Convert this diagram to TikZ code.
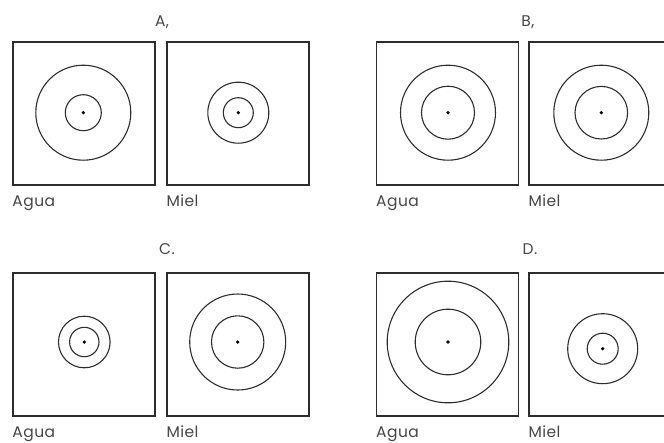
\documentclass[tikz,border=0pt]{standalone}
\usepackage{fontspec}
\setmainfont{Poppins}[LetterSpace=3]
\usepackage{xcolor}
\usepackage{tikz}
\usetikzlibrary{positioning}
\definecolor{inkgray}{RGB}{45,45,45}
\definecolor{textgray}{RGB}{70,70,70}

\begin{document}
\begin{tikzpicture}[x=1pt, y=-1pt,
    tank/.style={rectangle, draw=inkgray, line width=1.4pt, minimum width=142pt, minimum height=143pt, inner sep=0pt},
    ring/.style={draw=inkgray, line width=1.1pt},
    drop/.style={circle, fill=black, inner sep=0pt, minimum size=3.6pt},
    lbl/.style={anchor=base west, inner sep=0pt, text=textgray, font=\fontsize{15.5}{18}\selectfont},
    title/.style={anchor=base, inner sep=0pt, text=textgray, font=\fontsize{15.5}{18}\selectfont}
]
    \useasboundingbox (0,0) rectangle (664,442);

    % Option A
    \node[title] (tA) at (162,26) {A,};
    \node[tank] (aW) at (84,113.5) {};
    \node[tank] (aM) at (238,113.5) {};
    \node[drop] (aWc) at (83.3,112.7) {};
    \node[drop] (aMc) at (238.3,112.7) {};
    \draw[ring] (aWc) circle[radius=47.5] (aWc) circle[radius=18];
    \draw[ring] (aMc) circle[radius=30.5] (aMc) circle[radius=15];
    \node[lbl] (aWl) at ([yshift=-21pt]aW.south west) {Agua};
    \node[lbl] (aMl) at ([yshift=-21pt]aM.south west) {Miel};

    % Option B
    \node[title] (tB) at (528,26) {B,};
    \node[tank] (bW) at (447.7,113.5) {};
    \node[tank] (bM) at (600,113.5) {};
    \node[drop] (bWc) at (448,112.7) {};
    \node[drop] (bMc) at (601.3,112.7) {};
    \draw[ring] (bWc) circle[radius=47.5] (bWc) circle[radius=26.5];
    \draw[ring] (bMc) circle[radius=47.5] (bMc) circle[radius=26.3];
    \node[lbl] (bWl) at ([yshift=-21pt]bW.south west) {Agua};
    \node[lbl] (bMl) at ([yshift=-21pt]bM.south west) {Miel};

    % Option C
    \node[title] (tC) at (167,254.5) {C.};
    \node[tank] (cW) at (84,344.3) {};
    \node[tank] (cM) at (238,344.3) {};
    \node[drop] (cWc) at (84.3,342) {};
    \node[drop] (cMc) at (237.7,342) {};
    \draw[ring] (cWc) circle[radius=25.8] (cWc) circle[radius=14.7];
    \draw[ring] (cMc) circle[radius=48] (cMc) circle[radius=26.2];
    \node[lbl] (cWl) at ([yshift=-21pt]cW.south west) {Agua};
    \node[lbl] (cMl) at ([yshift=-21pt]cM.south west) {Miel};

    % Option D
    \node[title] (tD) at (530,254.5) {D.};
    \node[tank] (dW) at (447.7,344.3) {};
    \node[tank] (dM) at (600,344.3) {};
    \node[drop] (dWc) at (448,342) {};
    \node[drop] (dMc) at (602.7,348.7) {};
    \draw[ring] (dWc) circle[radius=60.8] (dWc) circle[radius=32.8];
    \draw[ring] (dMc) circle[radius=35] (dMc) circle[radius=15.5];
    \node[lbl] (dWl) at ([yshift=-21pt]dW.south west) {Agua};
    \node[lbl] (dMl) at ([yshift=-21pt]dM.south west) {Miel};
\end{tikzpicture}
\end{document}
